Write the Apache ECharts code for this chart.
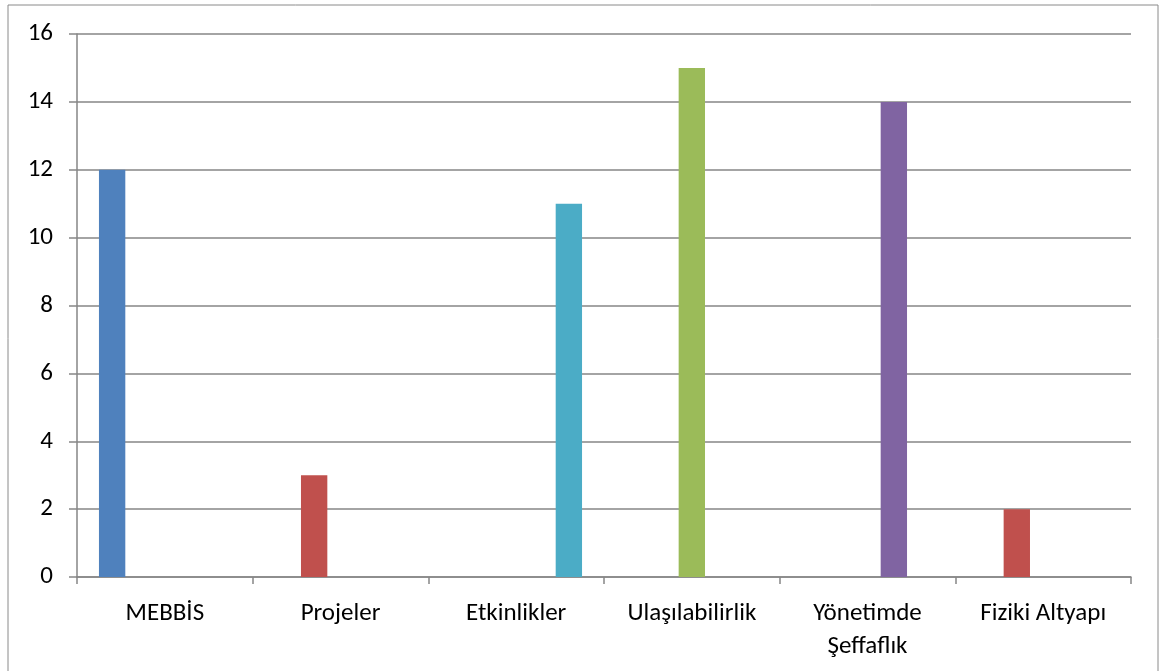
<!DOCTYPE html>
<html>
<head>
<meta charset="utf-8">
<script src="https://cdn.jsdelivr.net/npm/echarts@6/dist/echarts.min.js"></script>
<style>
  html, body { margin: 0; padding: 0; background: #fff; }
  #chart { width: 1160px; height: 671px; }
</style>
</head>
<body>
<div id="chart"></div>
<script>
// kategoriler
var categories = ['MEBBİS', 'Projeler', 'Etkinlikler', 'Ulaşılabilirlik', 'Yönetimde\nŞeffaflık', 'Fiziki Altyapı']
// her seri tek renk, Excel sırası ile
var seriesBlue = [12, null, null, null, null, null]
var seriesRed = [null, 3, null, null, null, 2]
var seriesGreen = [null, null, null, 15, null, null]
var seriesPurple = [null, null, null, null, 14, null]
var seriesAqua = [null, null, 11, null, null, null]
var seriesColors = ['#4F81BD', '#C0504D', '#9BBB59', '#8064A2', '#4BACC6']

var font = 'Carlito, Lato, "Open Sans", sans-serif'
var myChart = echarts.init(document.getElementById('chart'))

function bar (data, color) {
  return {
    type: 'bar',
    data: data,
    barGap: 0,
    barCategoryGap: '25%',
    itemStyle: { color: color },
    silent: true
  }
}

myChart.setOption({
  animation: false,
  graphic: [{
    type: 'rect',
    shape: { x: 8, y: 5, width: 1150, height: 700 },
    style: { fill: 'none', stroke: '#8a8a8a', lineWidth: 1 }
  }],
  grid: { left: 77, right: 29, top: 34, bottom: 94 },
  xAxis: {
    type: 'category',
    data: categories,
    axisLine: { lineStyle: { color: '#868686', width: 1.5 } },
    axisTick: { show: true, length: 7, lineStyle: { color: '#868686', width: 1.5 } },
    axisLabel: { color: '#000', fontSize: 25, fontFamily: font, margin: 20, lineHeight: 33, interval: 0 }
  },
  yAxis: {
    type: 'value',
    min: 0,
    max: 16,
    interval: 2,
    axisLine: { show: true, lineStyle: { color: '#868686', width: 1.5 } },
    axisTick: { show: true, length: 8, lineStyle: { color: '#868686', width: 1.5 } },
    axisLabel: { color: '#000', fontSize: 25, fontFamily: font, margin: 24 },
    splitLine: { lineStyle: { color: '#868686', width: 1.5 } }
  },
  series: [
    bar(seriesBlue, seriesColors[0]),
    bar(seriesRed, seriesColors[1]),
    bar(seriesGreen, seriesColors[2]),
    bar(seriesPurple, seriesColors[3]),
    bar(seriesAqua, seriesColors[4])
  ]
})
</script>
</body>
</html>
